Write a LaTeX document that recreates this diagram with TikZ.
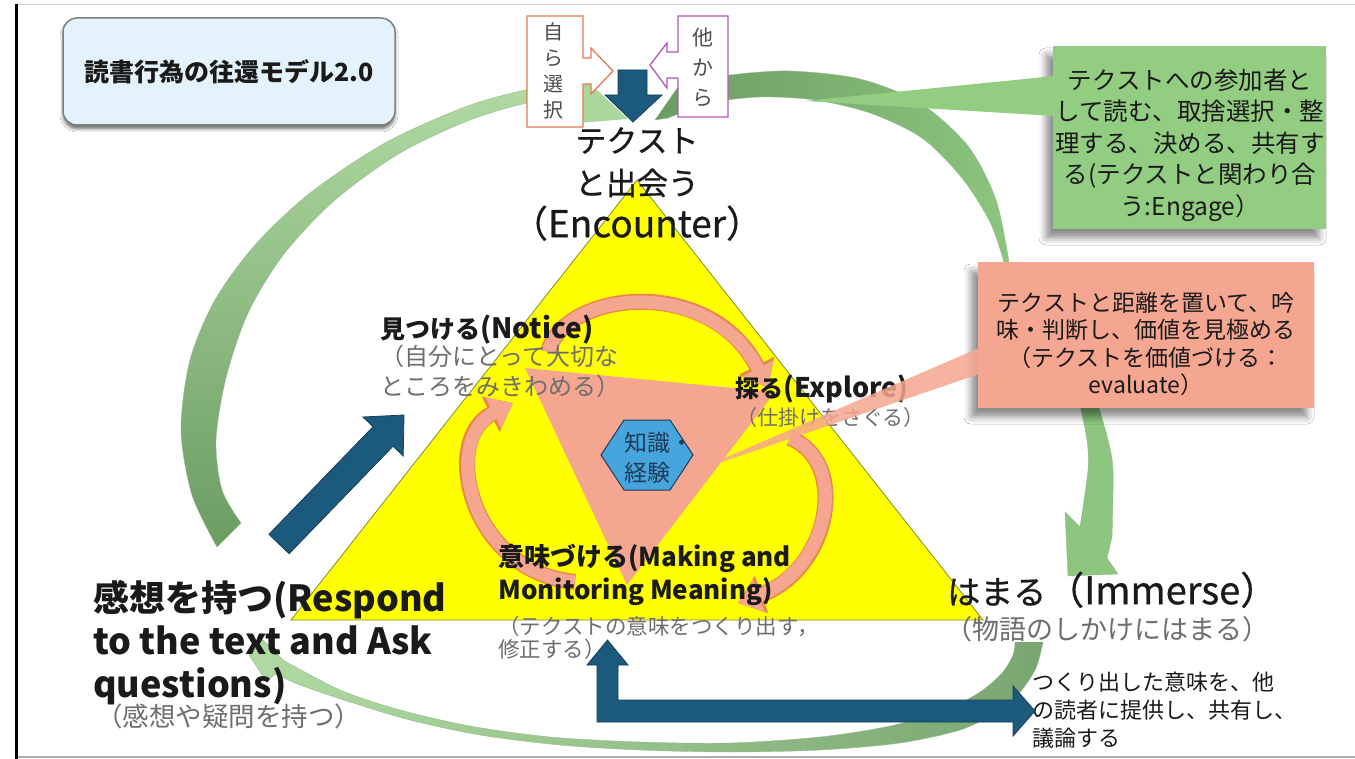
\documentclass[tikz,border=0pt]{standalone}
\usepackage{fontspec}
\setmainfont{Noto Sans CJK JP}
\newfontfamily\medfont[FakeBold=0.7]{Noto Sans CJK JP}
\usetikzlibrary{arrows.meta,shadows.blur,calc}
\definecolor{dblue}{HTML}{1C5A7D}
\definecolor{dblueb}{HTML}{133F58}
\definecolor{lgreen}{HTML}{B0DAA2}
\definecolor{mgreen}{HTML}{8CC57E}
\definecolor{dgreen}{HTML}{6B9C62}
\definecolor{salm}{HTML}{F4A690}
\definecolor{salmb}{HTML}{E8874F}
\definecolor{yel}{HTML}{FFFF00}
\definecolor{yelb}{HTML}{7E8C3A}
\definecolor{hexf}{HTML}{45A5DC}
\definecolor{hexb}{HTML}{1F3B57}
\definecolor{gtxt}{HTML}{6E6E6E}
\definecolor{titlef}{HTML}{E4F2FB}
\definecolor{boxg}{HTML}{93CD82}
\definecolor{orgb}{HTML}{E27A55}
\definecolor{purb}{HTML}{B455B8}
\definecolor{ink}{HTML}{1A1A1A}
\newcommand{\fsz}[2]{\fontsize{#1}{#2}\selectfont}
\tikzset{
  lab/.style={inner sep=0pt, align=left, anchor=north west, text=ink},
  sub/.style={lab, text=gtxt},
  titlebox/.style={draw=gray, line width=1.5pt, fill=titlef, rounded corners=14pt,
    minimum width=332pt, minimum height=107pt, inner sep=0pt, text=ink,
    blur shadow={shadow xshift=0pt, shadow yshift=-4pt, shadow blur radius=3pt, shadow opacity=55}},
  callbox/.style={inner sep=0pt,
    blur shadow={shadow xshift=-7pt, shadow yshift=-9pt, shadow blur radius=7pt, shadow opacity=45}},
  vtext/.style={inner sep=0pt, align=center, text=black!70},
  blockarrow/.style={fill=dblue, draw=dblueb, line width=0.8pt},
  sarcline/.style={line width=16pt, salmb, -{Triangle[width=38pt,length=25pt]}},
  sarcfill/.style={line width=13pt, salm, -{Triangle[width=33pt,length=22pt]}},
  gband/.style={draw=dgreen!70, line width=0.4pt}
}
\begin{document}
\begin{tikzpicture}[x=1pt,y=-1pt]
\useasboundingbox (0,0) rectangle (1355,759);
\fill[white] (0,0) rectangle (1355,759);
% frame
\draw[gray!35, line width=1pt] (17,5) -- (1355,5);
\draw[gray!65, line width=2pt] (17,757) -- (1355,757);
\draw[black, line width=3pt] (16.5,4) -- (16.5,759);

% ---------- big green circular arrows ----------
% left arc (Respond -> Encounter)
\shade[gband, top color=lgreen, bottom color=dgreen]
  plot[smooth] coordinates {(217,547) (192,495) (181,430) (190,360) (215,300) (255,245) (310,193) (385,143) (465,107) (530,89) (590,82)}
  -- plot[smooth] coordinates {(590,97) (532,102) (470,120) (400,153) (335,200) (284,254) (248,313) (226,378) (216,440) (222,490) (241,523)}
  -- cycle;
\fill[lgreen!85!mgreen] (578,72) -- (628,119) -- (578,123) -- cycle;
% right arc, upper part (Encounter -> Immerse)
\shade[gband, left color=dgreen, right color=mgreen]
  (655,120) -- plot[smooth] coordinates {(680,84) (730,75) (790,71) (860,79) (920,103) (968,146) (996,200) (1009,262)}
  -- plot[smooth] coordinates {(1004,262) (990,222) (962,178) (922,138) (870,113) (815,100) (760,97) (710,103) (668,118)}
  -- cycle;
% right arc, lower part
\fill[mgreen, draw=dgreen!70, line width=0.4pt]
  plot[smooth] coordinates {(1080,405) (1087,440) (1088,470) (1080,527)}
  -- (1065,512) -- (1068,576) -- (1118,574) -- (1107,558)
  -- plot[smooth] coordinates {(1112,537) (1113,470) (1108,440) (1098,405)}
  -- cycle;
% bottom arc (Immerse -> Respond)
\shade[gband, left color=lgreen, right color=dgreen!90]
  plot[smooth] coordinates {(1043,642) (1036,668) (1020,692) (995,713) (960,730) (900,743) (820,750) (730,752) (640,750) (560,745) (480,735) (410,720) (350,702) (300,685) (276,674)}
  -- (266,681) -- (249,655) -- (263,640)
  -- plot[smooth] coordinates {(283,660) (340,690) (400,710) (470,726) (550,737) (640,742) (730,743) (820,737) (890,726) (945,710) (980,692) (1002,673) (1013,655) (1015,642)}
  -- cycle;

% ---------- title ----------
\node[titlebox, font=\fsz{25}{30}\bfseries] (title) at (229,71.5) {読書行為の往還モデル2.0};

% ---------- yellow triangle ----------
\coordinate (apex) at (637,180);
\coordinate (bl) at (291,620);
\coordinate (br) at (983,620);
\filldraw[fill=yel, draw=yelb, line width=0.8pt] (apex) -- (bl) -- (br) -- cycle;

% inner salmon triangle
\coordinate (ta) at (525,368);
\coordinate (tb) at (775,392);
\coordinate (tc) at (627,585);
\fill[salm] (ta) -- (tb) -- (tc) -- cycle;

% salmon circular arrows
\coordinate (s1a) at (548,352); \coordinate (s1b) at (768,388);
\coordinate (s2a) at (790,438); \coordinate (s2b) at (738,603);
\coordinate (s3a) at (575,582); \coordinate (s3b) at (513,403);
\draw[sarcline] (s1a) .. controls (565,290) and (710,275) .. (s1b);
\draw[sarcfill] (s1a) .. controls (565,290) and (710,275) .. (s1b);
\draw[sarcline] (s2a) .. controls (850,462) and (830,570) .. (s2b);
\draw[sarcfill] (s2a) .. controls (850,462) and (830,570) .. (s2b);
\draw[sarcline] (s3a) .. controls (470,572) and (440,440) .. (s3b);
\draw[sarcfill] (s3a) .. controls (470,572) and (440,440) .. (s3b);

% ---------- top selection boxes ----------
\filldraw[fill=white, draw=orgb, line width=1.3pt]
  (527,16) -- (583,16) -- (583,58) -- (591,58) -- (591,48) -- (613,71) -- (591,94) -- (591,84) -- (583,84) -- (583,127) -- (527,127) -- cycle;
\node[vtext, font=\fsz{20}{26}] (jibun) at (553,71) {自\\ら\\選\\択};
\filldraw[fill=white, draw=purb, line width=1.3pt]
  (678,16) -- (728,16) -- (728,117) -- (678,117) -- (678,78) -- (667,78) -- (667,88) -- (650,65) -- (667,43) -- (667,52) -- (678,52) -- cycle;
\node[vtext, font=\fsz{21}{30}] (hoka) at (703,67) {他\\か\\ら};
\filldraw[blockarrow] (618,70) -- (647,70) -- (647,95) -- (662,95) -- (633,122) -- (605,95) -- (618,95) -- cycle;

% ---------- green callout ----------
\node[callbox, fill=boxg, minimum width=273pt, minimum height=183pt] (gbox) at (1189.5,137.5) {};
\fill[boxg] (805,101) -- (1055,76) -- (1055,116) -- cycle;
\node[inner sep=0pt, align=center, text=ink, font=\fsz{24.5}{31.5}] (gtext) at (1190,145)
  {テクストへの参加者と\\して読む、取捨選択・整\\理する、決める、共有す\\る(テクストと関わり合\\う:Engage）};

% ---------- labels ----------
\node[inner sep=0pt, align=center, text=ink, font=\medfont\fsz{31}{42.5}] (enc) at (637,184)
  {テクスト\\と出会う\\{\fsz{37}{42.5}（Encounter）}};
\node[lab, font=\fsz{25}{30}\bfseries] (notice) at (380,314.5) {見つける{\fsz{28}{30}(Notice)}};
\node[sub, font=\fsz{24}{30}] (noticesub) at (380,345) {（自分にとって大切な\\ところをみきわめる）};
\node[lab, font=\fsz{24}{30}\bfseries] (explore) at (735,375) {探る{\fsz{27}{30}(Explore)}};
\node[sub, font=\fsz{21}{24}] (exploresub) at (736,407.5) {（仕掛けをさぐる）};
\node[lab, font=\fsz{26}{33}\bfseries] (meaning) at (498,544) {意味づける(Making and\\Monitoring Meaning)};
\node[sub, font=\fsz{21.5}{23}] (meaningsub) at (498,616) {（テクストの意味をつくり出す，\\修正する）};
\node[lab, font=\fsz{36}{43}\bfseries] (respond) at (93,580) {感想を持つ(Respond\\to the text and Ask\\questions)};
\node[sub, font=\fsz{26.5}{30}] (respondsub) at (96,704) {（感想や疑問を持つ）};
\node[lab, font=\medfont\fsz{33}{38}] (immerse) at (947,571.5) {はまる{\fsz{38}{38}（Immerse）}};
\node[sub, font=\fsz{27}{30}] (immersesub) at (945,616.5) {（物語のしかけにはまる）};
\node[lab, font=\fsz{22}{28}] (share) at (1032,672) {つくり出した意味を、他\\の読者に提供し、共有し、\\議論する};

% ---------- salmon callout ----------
\node[callbox, fill=salm, minimum width=336pt, minimum height=146pt] (sbox) at (1146,335) {};
\fill[salm, opacity=0.85] (690,473) -- (979,348) -- (979,374) -- cycle;
\node[inner sep=0pt, align=center, text=ink, font=\fsz{23}{27.5}] (stext) at (1146,344)
  {テクストと距離を置いて、吟\\味・判断し、価値を見極める\\（テクストを価値づける：\\evaluate）};

% ---------- hexagon ----------
\filldraw[fill=hexf, draw=hexb, line width=1pt] (601,455) -- (624,420) -- (670,420) -- (693,455) -- (670,490) -- (624,490) -- cycle;
\node[inner sep=0pt, align=center, text=hexb, font=\fsz{23}{30}] (hex) at (647,458) {知識\rlap{・}\\経験};

% ---------- dark blue arrows ----------
\filldraw[blockarrow] (268.9,534.3) -- (373.0,426.8) -- (363.0,417.0) -- (404,415) -- (403.2,456.0) -- (393.1,446.2) -- (289.1,553.7) -- cycle;
\filldraw[blockarrow] (607.5,640) -- (628,665) -- (618,665) -- (618,700) -- (1013,700) -- (1013,686) -- (1035,711) -- (1013,736) -- (1013,722) -- (597,722) -- (597,665) -- (587,665) -- cycle;
\end{tikzpicture}
\end{document}
